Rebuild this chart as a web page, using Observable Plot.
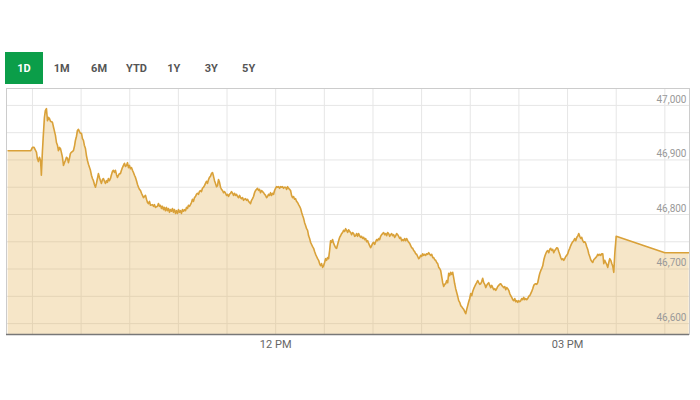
<!DOCTYPE html>
<html>
<head>
<meta charset="utf-8">
<script src="https://cdn.jsdelivr.net/npm/d3@7"></script>
<script src="https://cdn.jsdelivr.net/npm/@observablehq/plot@0.6"></script>
<style>
  html, body { margin: 0; padding: 0; background: #fff; }
  body { width: 700px; height: 400px; overflow: hidden; font-family: Roboto, "Open Sans", sans-serif; }
  #tabs { height: 86px; box-sizing: border-box; padding-top: 52px; padding-left: 5px; display: flex; }
  .tab { width: 37.4px; height: 32px; line-height: 33px; text-align: center; font-size: 11px; font-weight: 700; color: #555; }
  .tab.active { background: #0b9e49; color: #fff; width: 38px; }
  #chart svg { display: block; }
</style>
</head>
<body>
<div id="tabs"></div>
<div id="chart"></div>
<script>
const tabLabels = ["1D", "1M", "6M", "YTD", "1Y", "3Y", "5Y"];

const times = [
"09:15:00","09:29:00","09:30:00","09:31:00","09:32:30","09:33:00","09:33:40","09:34:20","09:35:00","09:35:30",
"09:36:10","09:36:47","09:37:24","09:38:00","09:38:38","09:39:15","09:39:52","09:40:30","09:41:06","09:42:20",
"09:43:00","09:44:11","09:44:48","09:45:25","09:46:00","09:46:40","09:47:16","09:48:00","09:48:30","09:49:07",
"09:49:44","09:50:21","09:51:00","09:51:35","09:52:12","09:52:49","09:53:26","09:54:00","09:55:17","09:55:54",
"09:56:31","09:57:08","09:57:45","09:58:22","09:59:00","09:59:36","10:00:13","10:00:50","10:01:27","10:02:00",
"10:02:41","10:03:18","10:03:55","10:04:32","10:05:46","10:06:23","10:07:00","10:07:37","10:08:14","10:08:51",
"10:09:28","10:10:05","10:10:42","10:11:19","10:11:56","10:12:33","10:13:10","10:13:47","10:14:24","10:15:01",
"10:15:38","10:16:15","10:16:52","10:17:29","10:18:07","10:18:44","10:19:21","10:19:58","10:20:35","10:21:12",
"10:21:49","10:22:26","10:23:03","10:23:40","10:24:17","10:24:54","10:25:31","10:26:08","10:26:45","10:27:22",
"10:28:00","10:28:37","10:29:13","10:29:50","10:30:27","10:31:04","10:31:41","10:32:18","10:32:55","10:33:32",
"10:34:10","10:34:47","10:35:24","10:36:01","10:36:38","10:37:15","10:37:52","10:38:29","10:39:06","10:39:43",
"10:40:20","10:40:57","10:41:34","10:42:11","10:42:48","10:44:02","10:44:39","10:45:16","10:45:53","10:47:06",
"10:47:43","10:48:20","10:48:57","10:49:34","10:50:11","10:50:48","10:51:25","10:52:02","10:52:39","10:53:16",
"10:53:53","10:54:30","10:55:07","10:55:44","10:56:21","10:56:58","10:57:35","10:58:12","10:58:49","10:59:27",
"11:00:04","11:00:41","11:01:18","11:01:55","11:02:32","11:03:09","11:03:46","11:04:23","11:05:00","11:05:37",
"11:06:14","11:06:51","11:07:28","11:08:05","11:08:42","11:09:19","11:09:56","11:10:33","11:11:10","11:11:47",
"11:12:24","11:13:01","11:13:38","11:14:15","11:14:52","11:15:29","11:16:06","11:16:44","11:17:21","11:17:58",
"11:18:35","11:19:12","11:19:49","11:20:26","11:21:03","11:21:40","11:22:17","11:22:54","11:23:31","11:24:08",
"11:24:45","11:25:22","11:25:59","11:26:36","11:27:13","11:27:50","11:28:27","11:29:04","11:29:42","11:30:19",
"11:30:56","11:31:33","11:32:10","11:32:47","11:33:24","11:34:01","11:34:38","11:35:15","11:35:52","11:36:29",
"11:37:06","11:37:43","11:38:20","11:38:57","11:39:34","11:40:11","11:40:48","11:41:25","11:42:02","11:42:39",
"11:43:16","11:43:53","11:44:30","11:45:07","11:45:44","11:46:21","11:46:59","11:47:36","11:48:13","11:48:50",
"11:49:27","11:50:04","11:50:41","11:51:18","11:51:55","11:52:32","11:53:09","11:53:46","11:54:23","11:55:00",
"11:55:37","11:56:14","11:56:51","11:57:28","11:58:05","11:58:42","11:59:19","11:59:56","12:00:33","12:01:10",
"12:01:47","12:02:24","12:03:01","12:03:38","12:04:15","12:04:52","12:05:29","12:06:06","12:06:43","12:07:20",
"12:07:57","12:08:34","12:09:11","12:09:48","12:10:25","12:11:02","12:11:39","12:12:16","12:12:53","12:13:31",
"12:14:08","12:14:45","12:15:22","12:15:59","12:16:36","12:17:13","12:17:50","12:18:27","12:19:04","12:19:41",
"12:20:18","12:20:55","12:21:32","12:22:09","12:22:46","12:23:23","12:24:00","12:24:37","12:25:14","12:25:51",
"12:26:28","12:27:05","12:27:42","12:28:19","12:28:56","12:29:33","12:30:10","12:30:47","12:31:24","12:32:01",
"12:32:38","12:33:16","12:33:53","12:34:30","12:35:07","12:35:44","12:36:21","12:36:58","12:37:35","12:38:12",
"12:38:49","12:39:26","12:40:03","12:40:40","12:41:17","12:41:54","12:42:31","12:43:08","12:43:45","12:44:22",
"12:44:59","12:45:36","12:46:13","12:46:50","12:47:27","12:48:04","12:48:41","12:49:18","12:49:55","12:50:32",
"12:51:09","12:51:46","12:52:23","12:53:00","12:53:38","12:54:15","12:54:52","12:55:29","12:56:06","12:56:43",
"12:57:20","12:57:57","12:58:34","12:59:11","12:59:48","13:00:25","13:01:02","13:01:39","13:02:16","13:02:53",
"13:03:30","13:04:07","13:04:44","13:05:21","13:05:58","13:06:35","13:07:12","13:07:49","13:08:26","13:09:03",
"13:09:40","13:10:17","13:10:54","13:11:31","13:12:08","13:12:45","13:13:23","13:14:00","13:14:37","13:15:14",
"13:15:51","13:16:28","13:17:05","13:17:42","13:18:19","13:18:56","13:19:33","13:20:10","13:20:47","13:21:24",
"13:22:01","13:22:38","13:23:15","13:23:52","13:24:29","13:25:06","13:25:43","13:26:20","13:26:57","13:27:34",
"13:28:11","13:28:48","13:29:25","13:30:02","13:30:39","13:31:16","13:31:53","13:32:30","13:33:07","13:33:45",
"13:34:22","13:34:59","13:35:36","13:36:13","13:36:50","13:37:27","13:38:04","13:38:41","13:39:18","13:39:55",
"13:40:32","13:41:09","13:41:46","13:42:23","13:43:00","13:43:37","13:44:14","13:44:51","13:45:28","13:46:05",
"13:46:42","13:47:19","13:47:56","13:48:33","13:49:10","13:49:47","13:50:24","13:51:01","13:51:38","13:52:15",
"13:52:52","13:53:29","13:54:07","13:54:44","13:55:21","13:55:58","13:56:35","13:57:12","13:57:49","13:58:26",
"13:59:03","13:59:40","14:00:17","14:00:54","14:01:31","14:02:08","14:02:45","14:03:22","14:03:59","14:04:36",
"14:05:13","14:05:50","14:06:27","14:07:04","14:07:41","14:08:18","14:08:55","14:09:32","14:10:09","14:10:46",
"14:11:23","14:12:01","14:12:38","14:13:15","14:13:52","14:14:29","14:15:06","14:15:43","14:16:20","14:16:57",
"14:17:34","14:18:11","14:18:48","14:19:25","14:20:02","14:20:39","14:21:16","14:21:53","14:22:30","14:23:07",
"14:23:44","14:24:21","14:24:58","14:25:35","14:26:12","14:26:49","14:27:26","14:28:03","14:28:40","14:29:17",
"14:29:54","14:30:31","14:31:08","14:31:45","14:32:22","14:32:59","14:33:36","14:34:13","14:34:50","14:35:27",
"14:36:04","14:36:41","14:37:18","14:37:55","14:38:32","14:39:09","14:39:46","14:40:23","14:41:00","14:41:37",
"14:42:14","14:42:51","14:43:28","14:44:05","14:44:42","14:45:19","14:45:56","14:46:33","14:47:10","14:47:47",
"14:48:24","14:49:01","14:49:38","14:50:15","14:50:52","14:51:29","14:52:06","14:52:43","14:53:20","14:53:57",
"14:54:34","14:55:11","14:55:48","14:56:25","14:57:02","14:57:39","14:58:16","14:58:53","14:59:30","15:00:07",
"15:00:44","15:01:21","15:01:58","15:02:35","15:03:12","15:03:49","15:04:26","15:05:03","15:05:40","15:06:17",
"15:06:54","15:07:31","15:08:08","15:08:45","15:09:22","15:09:59","15:10:36","15:11:13","15:11:50","15:12:27",
"15:13:04","15:13:41","15:14:18","15:14:55","15:15:32","15:16:09","15:16:46","15:17:23","15:18:00","15:18:37",
"15:19:14","15:19:51","15:20:29","15:21:06","15:21:43","15:22:20","15:22:57","15:23:34","15:24:11","15:24:48",
"15:25:25","15:26:02","15:26:39","15:27:16","15:27:53","15:28:30","15:29:07","15:30:00","16:00:00","16:15:00"
];

const values = [
46917,46917,46923,46923,46914,46903,46897,46905,46899,46872,
46917,46949,46978,46991,46994,46972,46978,46976,46971,46969,
46960,46945,46932,46927,46917,46923,46921,46912,46905,46890,
46895,46899,46905,46903,46895,46903,46912,46914,46917,46925,
46936,46943,46954,46956,46952,46949,46949,46939,46936,46927,
46921,46908,46899,46892,46881,46872,46866,46862,46855,46850,
46857,46866,46875,46868,46862,46857,46864,46866,46861,46857,
46862,46859,46866,46862,46866,46873,46879,46881,46877,46881,
46873,46868,46872,46875,46875,46881,46886,46890,46894,46888,
46890,46895,46886,46890,46884,46886,46881,46877,46872,46868,
46862,46855,46850,46846,46844,46839,46835,46831,46833,46835,
46828,46822,46820,46824,46817,46818,46815,46818,46813,46815,
46820,46815,46817,46811,46815,46809,46813,46807,46813,46807,
46811,46804,46809,46806,46811,46804,46809,46802,46807,46802,
46809,46804,46807,46802,46809,46806,46809,46807,46813,46811,
46817,46815,46818,46822,46828,46824,46831,46833,46837,46839,
46837,46842,46844,46842,46848,46850,46853,46857,46861,46857,
46864,46868,46870,46875,46877,46870,46862,46857,46851,46853,
46864,46859,46850,46846,46844,46840,46842,46839,46835,46837,
46833,46837,46839,46842,46839,46835,46839,46835,46837,46833,
46831,46835,46831,46829,46831,46826,46828,46829,46826,46828,
46824,46822,46820,46826,46829,46833,46840,46844,46846,46848,
46844,46846,46840,46844,46842,46840,46837,46835,46831,46833,
46837,46835,46840,46835,46839,46837,46844,46848,46851,46850,
46851,46848,46851,46850,46851,46848,46850,46850,46846,46851,
46848,46846,46844,46835,46831,46833,46828,46829,46824,46822,
46818,46815,46811,46804,46798,46793,46785,46780,46774,46771,
46761,46756,46749,46745,46741,46738,46732,46727,46723,46719,
46716,46710,46706,46710,46703,46706,46712,46719,46716,46721,
46719,46734,46752,46749,46754,46747,46743,46739,46738,46745,
46752,46758,46761,46765,46767,46771,46769,46774,46771,46767,
46772,46769,46767,46763,46767,46765,46760,46761,46765,46760,
46765,46761,46758,46760,46756,46758,46754,46756,46750,46752,
46747,46743,46739,46743,46747,46749,46745,46750,46754,46752,
46756,46754,46760,46763,46765,46767,46763,46765,46761,46767,
46765,46760,46763,46765,46761,46763,46758,46761,46765,46763,
46760,46756,46758,46752,46754,46752,46756,46752,46756,46752,
46749,46747,46743,46739,46738,46734,46732,46728,46727,46723,
46719,46721,46725,46723,46728,46725,46727,46725,46728,46727,
46730,46727,46725,46727,46721,46721,46717,46716,46712,46710,
46703,46701,46697,46686,46675,46668,46672,46673,46679,46675,
46692,46688,46694,46690,46694,46684,46673,46664,46657,46650,
46642,46639,46633,46631,46628,46626,46622,46618,46626,46633,
46640,46646,46655,46651,46659,46664,46668,46672,46675,46679,
46675,46672,46673,46677,46683,46675,46672,46666,46670,46673,
46675,46670,46666,46670,46666,46662,46664,46661,46664,46668,
46670,46672,46673,46670,46668,46666,46668,46662,46666,46664,
46661,46655,46651,46648,46644,46642,46646,46640,46642,46639,
46642,46640,46642,46646,46644,46648,46644,46646,46644,46646,
46650,46651,46655,46659,46664,46670,46672,46673,46672,46675,
46684,46692,46697,46701,46706,46716,46723,46728,46732,46734,
46730,46736,46738,46734,46736,46730,46734,46736,46739,46738,
46732,46727,46721,46717,46719,46716,46719,46723,46725,46728,
46734,46738,46743,46747,46750,46752,46756,46752,46758,46760,
46765,46760,46756,46758,46752,46749,46750,46747,46741,46736,
46728,46723,46717,46714,46712,46717,46719,46721,46723,46727,
46725,46727,46725,46728,46728,46710,46716,46712,46708,46703,
46712,46719,46716,46710,46705,46694,46728,46760,46730,46730
];

const gridTimes = ["09:30","10:00","10:30","11:00","11:30","12:00","12:30","13:00","13:30","14:00","14:30","15:00","15:30","16:00"];
const gridValues = [46600, 46650, 46700, 46750, 46800, 46850, 46900, 46950, 47000];
const yTickValues = [46600, 46700, 46800, 46900, 47000];
const xTickTimes = ["12:00", "15:00"];
const xTickLabels = ["12 PM", "03 PM"];
const xDomain = ["09:14:00", "16:15:12"];
const yDomain = [46580, 47031];

// tabs
const tabsEl = document.getElementById("tabs");
tabLabels.forEach((t, i) => {
  const d = document.createElement("div");
  d.className = "tab" + (i === 0 ? " active" : "");
  d.textContent = t;
  tabsEl.appendChild(d);
});

const toDate = (s) => {
  const p = s.split(":").map(Number);
  return new Date(Date.UTC(2000, 0, 1, p[0], p[1], p[2] || 0));
};

const data = times.map((t, i) => ({ time: toDate(t), value: values[i] }));
const gx = gridTimes.map(toDate);
const xt = xTickTimes.map(toDate);
const fmtLabel = (d) => xTickLabels[xt.findIndex(v => +v === +d)];

const chart = Plot.plot({
  width: 700,
  height: 274,
  marginTop: 2,
  marginBottom: 26,
  marginLeft: 6,
  marginRight: 11,
  style: { fontFamily: "Roboto, sans-serif", background: "#fff" },
  x: { type: "utc", domain: xDomain.map(toDate) },
  y: { domain: yDomain },
  marks: [
    Plot.ruleX(gx, { stroke: "#e6e6e6", strokeWidth: 1 }),
    Plot.ruleY(gridValues, { stroke: "#e6e6e6", strokeWidth: 1 }),
    Plot.areaY(data, { x: "time", y1: yDomain[0], y2: "value", fill: "#e2ac48", fillOpacity: 0.3 }),
    Plot.lineY(data, { x: "time", y: "value", stroke: "#d9a139", strokeWidth: 1.6 }),
    Plot.text(yTickValues, {
      y: (d) => d, frameAnchor: "right", textAnchor: "end", dx: -3, dy: -6,
      text: d3.format(","), fill: "#999", fontSize: 10
    }),
    Plot.frame({ stroke: "#ccc" }),
    Plot.ruleY([yDomain[0]], { stroke: "#777", strokeWidth: 1.5 }),
    Plot.axisX({
      ticks: xt, tickSize: 0, tickPadding: 6, tickFormat: fmtLabel,
      fontSize: 11, color: "#666", label: null
    }),
    Plot.axisY({ ticks: [], label: null })
  ]
});
document.getElementById("chart").appendChild(chart);
</script>
</body>
</html>
